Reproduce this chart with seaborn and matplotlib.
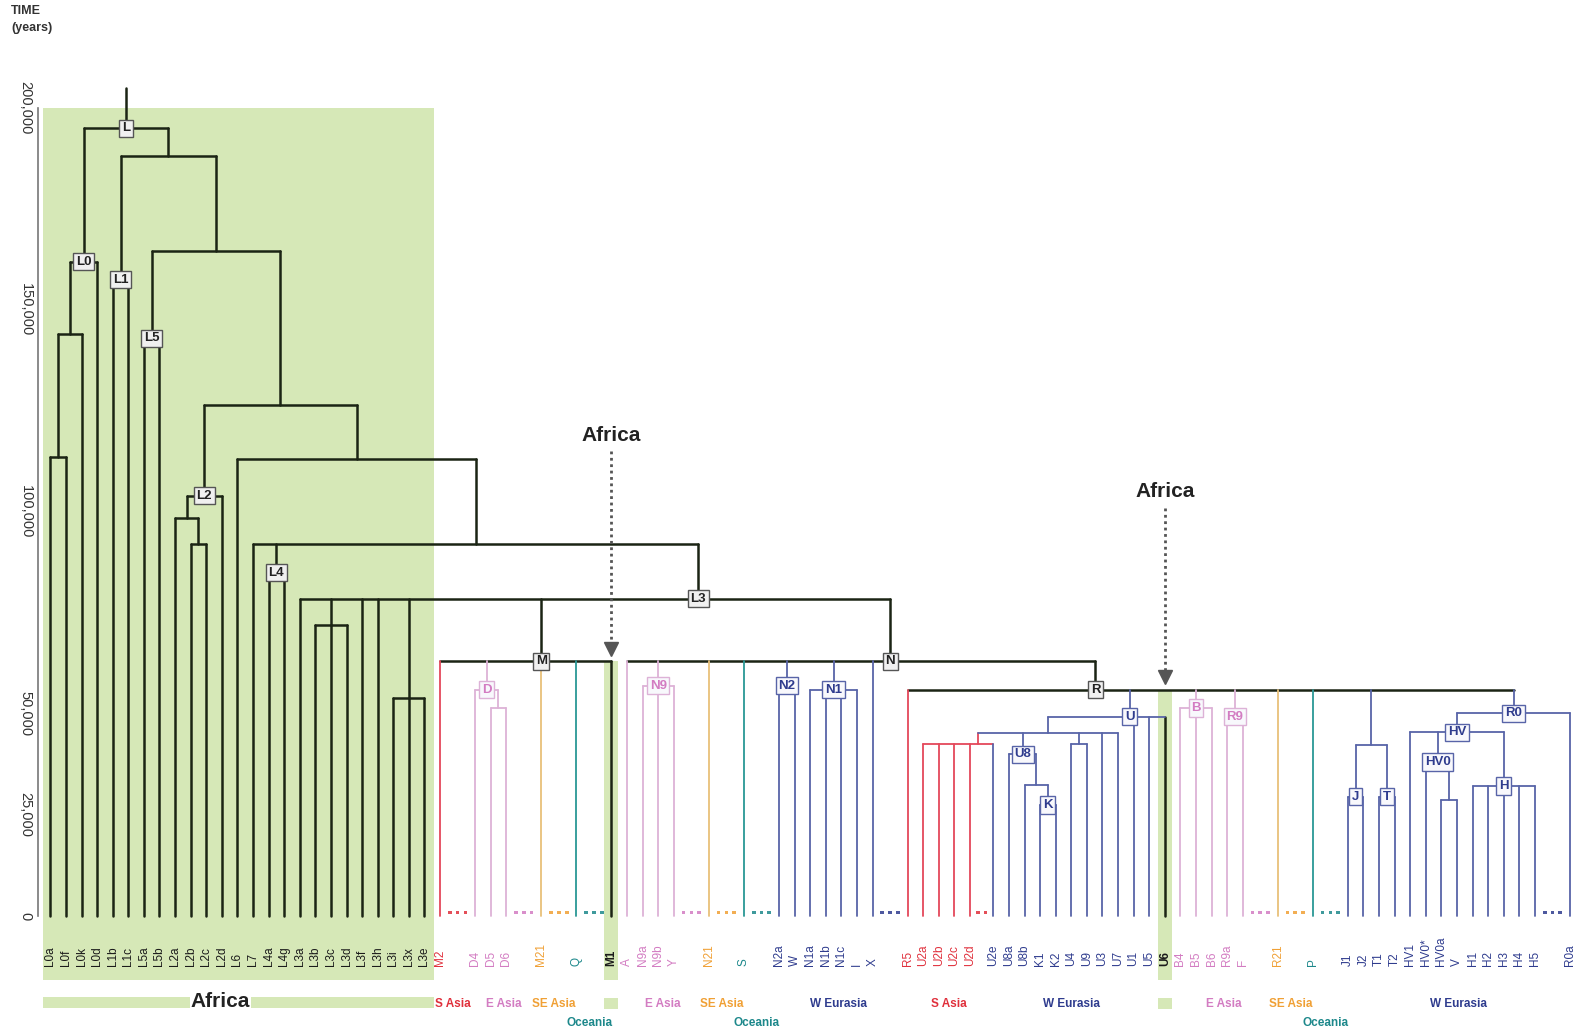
import matplotlib
matplotlib.use("Agg")
import matplotlib.pyplot as plt
import seaborn as sns
import pandas as pd
import numpy as np
from collections import Counter
from matplotlib.patches import Rectangle

# tree topology: internal node -> children, left to right
CHILDREN = {
    "L": ["L0", "L1-6"],
    "L0": ["L0afk", "L0d"],
    "L0afk": ["L0af", "L0k"],
    "L0af": ["L0a", "L0f"],
    "L1-6": ["L1", "L2-6"],
    "L1": ["L1b", "L1c"],
    "L2-6": ["L5", "L2346"],
    "L5": ["L5a", "L5b"],
    "L2346": ["L2", "L346"],
    "L2": ["L2abc", "L2d"],
    "L2abc": ["L2a", "L2bc"],
    "L2bc": ["L2b", "L2c"],
    "L346": ["L6", "L347"],
    "L347": ["L7", "L4", "L3"],
    "L4": ["L4a", "L4g"],
    "L3": ["L3a", "L3bcd", "L3f", "L3h", "L3ixe", "M", "N"],
    "L3bcd": ["L3b", "L3c", "L3d"],
    "L3ixe": ["L3i", "L3x", "L3e"],
    "M": ["M2", "D", "M21", "Q", "M1"],
    "D": ["D4", "D56"],
    "D56": ["D5", "D6"],
    "N": ["A", "N9", "N21", "S", "N2", "N1", "X", "R"],
    "N9": ["N9a", "N9b", "Y"],
    "N2": ["N2a", "W"],
    "N1": ["N1a", "N1b", "N1c", "I"],
    "R": ["R5", "U", "B", "R9", "R21", "P", "JT", "R0"],
    "U": ["U2-9", "U1", "U5", "U6"],
    "U2-9": ["U2", "U8", "U49", "U3", "U7"],
    "U2": ["U2a", "U2b", "U2c", "U2d", "U2e"],
    "U8": ["U8a", "U8bK"],
    "U8bK": ["U8b", "K"],
    "K": ["K1", "K2"],
    "U49": ["U4", "U9"],
    "B": ["B4", "B5", "B6"],
    "R9": ["R9a", "F"],
    "JT": ["J", "T"],
    "J": ["J1", "J2"],
    "T": ["T1", "T2"],
    "R0": ["HV", "R0a"],
    "HV": ["HV1", "HV0", "H"],
    "HV0": ["HV0*", "HV0aV"],
    "HV0aV": ["HV0a", "V"],
    "H": ["H1", "H2", "H3", "H4", "H5"],
}

# node ages in years
AGES = {
    "L": 195000, "L0": 162000, "L0afk": 144000, "L0af": 113500,
    "L1-6": 188000, "L1": 157500, "L2-6": 164500, "L5": 143000,
    "L2346": 126500, "L2": 104000, "L2abc": 98500, "L2bc": 92000,
    "L346": 113000, "L347": 92000, "L4": 85000, "L3": 78500,
    "L3bcd": 72000, "L3ixe": 54000,
    "M": 63000, "D": 56000, "D56": 51500,
    "N": 63000, "N9": 57000, "N2": 57000, "N1": 56000,
    "R": 56000, "U": 49300, "U2-9": 45300, "U2": 42600, "U8": 40000,
    "U8bK": 32400, "K": 27500, "U49": 42600, "B": 51500, "R9": 49300,
    "JT": 42300, "J": 29500, "T": 29500, "R0": 50200, "HV": 45500,
    "HV0": 38100, "HV0aV": 28700, "H": 32200,
}
ROOT_TOP = 205000

LABELLED = ["L", "L0", "L1", "L5", "L2", "L4", "L3", "M", "N", "D", "N9",
            "N2", "N1", "R", "U", "U8", "K", "B", "R9", "J", "T", "R0",
            "HV", "HV0", "H"]
FOUNDERS = ["M", "N", "R"]

S_ASIA = ["M2", "R5", "U2a", "U2b", "U2c", "U2d"]
E_ASIA = ["D4", "D5", "D6", "A", "N9a", "N9b", "Y", "B4", "B5", "B6", "R9a", "F"]
SE_ASIA = ["M21", "N21", "R21"]
OCEANIA = ["Q", "S", "P"]
BACK_TO_AFRICA = ["M1", "U6"]

# leaves followed by unsampled lineages ("...")
DOTS_AFTER = {"M2": 3, "D6": 3, "M21": 3, "Q": 3, "Y": 3, "N21": 3, "S": 3,
              "X": 3, "U2d": 2, "F": 3, "R21": 3, "P": 3, "H5": 3}

# nodes whose stem is not centred over their children
STEM_AT = {"L3": ("Y", "N21", 0.7), "M": ("M21", "M21", 0.0),
           "N": ("X", "R5", 0.5), "R": ("U9", "U3", 0.55),
           "U": ("U7", "U1", 0.75), "U2": ("U2d", "U2e", 0.35)}

REGION_LABELS = [("S Asia", "M2", "M2", 0), ("E Asia", "D4", "D6", 0),
                 ("SE Asia", "M21", "M21", 0), ("Oceania", "Q", "Q", 1),
                 ("E Asia", "A", "Y", 0), ("SE Asia", "N21", "N21", 0),
                 ("Oceania", "S", "S", 1), ("W Eurasia", "N2a", "X", 0),
                 ("S Asia", "R5", "U2d", 0), ("W Eurasia", "U2e", "U5", 0),
                 ("E Asia", "B4", "F", 0), ("SE Asia", "R21", "R21", 0),
                 ("Oceania", "P", "P", 1), ("W Eurasia", "J1", "R0a", 0)]

# back-migrations into Africa: leaf, node the arrow points at, text height
ARROWS = [("M1", "M", 119000), ("U6", "R", 105000)]

YTICKS = [0, 25000, 50000, 100000, 150000, 200000]

# styles
TEXT_COLORS = {"Africa": "#1a1a1a", "S Asia": "#e0303c", "E Asia": "#d37cc2",
               "SE Asia": "#f0a035", "Oceania": "#1d888b", "W Eurasia": "#2f3c8e"}
LINE_COLORS = {"Africa": "#1b2414", "S Asia": "#e4485a", "E Asia": "#ddb2d7",
               "SE Asia": "#e8c07a", "Oceania": "#2a9795", "W Eurasia": "#5864a8"}
LINE_WIDTHS = {"Africa": 1.8, "S Asia": 1.3, "E Asia": 1.3, "SE Asia": 1.3,
               "Oceania": 1.3, "W Eurasia": 1.3}
GREEN = "#d6e8b7"
GAP = {3: 1.25, 2: 0.5}


def leaves_of(n):
    if n not in CHILDREN:
        return [n]
    return [lf for c in CHILDREN[n] for lf in leaves_of(c)]


def leaf_region(lf):
    if lf in BACK_TO_AFRICA or lf.startswith("L"):
        return "Africa"
    for name, group in [("S Asia", S_ASIA), ("E Asia", E_ASIA),
                        ("SE Asia", SE_ASIA), ("Oceania", OCEANIA)]:
        if lf in group:
            return name
    return "W Eurasia"


def has_founder(n):
    return n in FOUNDERS or any(has_founder(c) for c in CHILDREN.get(n, []))


def region_of(n):
    if n not in CHILDREN:
        return leaf_region(n)
    if has_founder(n):
        return "Africa"
    return Counter(leaf_region(lf) for lf in leaves_of(n)).most_common(1)[0][0]


LEAVES = leaves_of("L")
pos = {}
x = 0.0
for lf in LEAVES:
    pos[lf] = x
    x += 1 + GAP.get(DOTS_AFTER.get(lf, 0), 0)
last = pos[LEAVES[-1]]


def node_x(n):
    if n not in CHILDREN:
        return pos[n]
    if n in STEM_AT:
        a, b, f = STEM_AT[n]
        return pos[a] + f * (pos[b] - pos[a])
    kids = CHILDREN[n]
    return (node_x(kids[0]) + node_x(kids[-1])) / 2


def age(n):
    return AGES.get(n, 0)


# build line segments
rows = []
seg = 0
nx = node_x("L")
rows += [dict(seg=seg, x=nx, y=AGES["L"], kind="Africa"),
         dict(seg=seg, x=nx, y=ROOT_TOP, kind="Africa")]
for n, kids in CHILDREN.items():
    seg += 1
    xs = [node_x(c) for c in kids]
    k = region_of(n)
    rows += [dict(seg=seg, x=min(xs), y=AGES[n], kind=k),
             dict(seg=seg, x=max(xs), y=AGES[n], kind=k)]
    for c in kids:
        seg += 1
        kc = region_of(c)
        rows += [dict(seg=seg, x=node_x(c), y=AGES[n], kind=kc),
                 dict(seg=seg, x=node_x(c), y=age(c), kind=kc)]
segs = pd.DataFrame(rows)

# figure
sns.set_theme(style="white")
plt.rcParams["font.family"] = ["Liberation Sans", "DejaVu Sans"]

W, H = 1580, 1029
fig = plt.figure(figsize=(W / 100, H / 100), dpi=100)
ax = fig.add_axes([0, 0, 1, 1])
s = (1570 - 50.4) / last
ax.set_xlim(-50.4 / s, last + 10 / s)
ppy = 4.04 / 1000
ax.set_ylim(-(H - 916) / ppy, 916 / ppy)

# green backgrounds
afr = [lf for lf in LEAVES if lf.startswith("L")]
x0, x1 = pos[afr[0]] - 0.5, pos[afr[-1]] + 0.6
ax.add_patch(Rectangle((x0, -15800), x1 - x0, 200000 + 15800, color=GREEN, zorder=0, lw=0))
ax.add_patch(Rectangle((x0, -22800), x1 - x0, 2700, color=GREEN, zorder=0, lw=0))
ax.text((pos[afr[0]] + pos[afr[-1]]) / 2 - 1.1, -21200, "Africa", ha="center", va="center",
        fontsize=15, weight="bold", color="#222",
        bbox=dict(boxstyle="square,pad=0.05", fc="white", ec="none"), zorder=5)
for lf, target, ty in ARROWS:
    ax.add_patch(Rectangle((pos[lf] - 0.45, -15800), 0.9, AGES[target] + 15800,
                           color=GREEN, zorder=0, lw=0))
    ax.add_patch(Rectangle((pos[lf] - 0.45, -23000), 0.9, 2700, color=GREEN, zorder=0, lw=0))
    ax.text(pos[lf], ty, "Africa", ha="center", va="center", fontsize=15,
            weight="bold", color="#222")
    ax.plot([pos[lf], pos[lf]], [ty - 4000, AGES[target] + 3500], color="#555",
            lw=2, linestyle=(0, (1, 1.3)), zorder=3)
    ax.plot([pos[lf]], [AGES[target] + 3200], marker="v", markersize=10,
            color="#555", zorder=3)

sns.lineplot(data=segs, x="x", y="y", units="seg", estimator=None, sort=False,
             hue="kind", palette=LINE_COLORS, size="kind", sizes=LINE_WIDTHS,
             legend=False, ax=ax, zorder=2)

# unsampled lineages
drows = []
for lf, nd in DOTS_AFTER.items():
    centre = pos[lf] + (1 + GAP[nd]) / 2
    offs = [-0.5, 0, 0.5] if nd == 3 else [-0.25, 0.25]
    for o in offs:
        drows.append(dict(x=centre + o, y=900, kind=leaf_region(lf)))
dots = pd.DataFrame(drows)
sns.scatterplot(data=dots, x="x", y="y", hue="kind", palette=TEXT_COLORS,
                marker="s", s=7, linewidth=0, alpha=0.85, legend=False, ax=ax, zorder=3)

# node labels
for n in LABELLED:
    r = region_of(n)
    if r == "Africa":
        tc, ec, fc = "#222222", "#555555", "#f0f0f0"
    else:
        tc, ec, fc = TEXT_COLORS[r], LINE_COLORS[r], "#f8f8fc"
    ax.text(node_x(n), AGES[n], n, ha="center", va="center", fontsize=9.5,
            weight="bold", color=tc, zorder=5,
            bbox=dict(boxstyle="square,pad=0.2", fc=fc, ec=ec, lw=1))

# leaf labels
for lf in LEAVES:
    back = lf in BACK_TO_AFRICA
    ax.text(pos[lf], -12400, lf, rotation=90, ha="center", va="bottom",
            fontsize=8.5, color=TEXT_COLORS[leaf_region(lf)],
            weight="bold" if back else "normal", zorder=4)

# region labels
for text, a, b, row in REGION_LABELS:
    end = pos[b] + ((1 + GAP[DOTS_AFTER[b]]) / 2 + 0.5 if b in DOTS_AFTER else 0)
    ax.text((pos[a] + end) / 2, -21700 if row == 0 else -26400, text,
            ha="center", va="center", fontsize=8.5, weight="bold",
            color=TEXT_COLORS[text])

# time axis
for side in ["top", "right", "bottom"]:
    ax.spines[side].set_visible(False)
ax.spines["left"].set_position(("data", pos[afr[0]] - 0.78))
ax.spines["left"].set_bounds(0, 200000)
ax.spines["left"].set_color("#777777")
ax.spines["left"].set_linewidth(1.2)
ax.set_yticks(YTICKS)
ax.set_yticklabels([f"{v:,}" for v in YTICKS], rotation=270, va="center", ha="right")
ax.tick_params(axis="y", direction="in", length=6, width=1.2, color="#777777",
               labelsize=10.5, labelcolor="#333333", pad=4)
ax.set_xticks([])
ax.set_xlabel("")
ax.set_ylabel("")
fig.text(0.007, 0.995, "TIME\n(years)", ha="left", va="top", fontsize=9,
         weight="bold", color="#333333", linespacing=1.5)

fig.savefig("out.png", dpi=100)
